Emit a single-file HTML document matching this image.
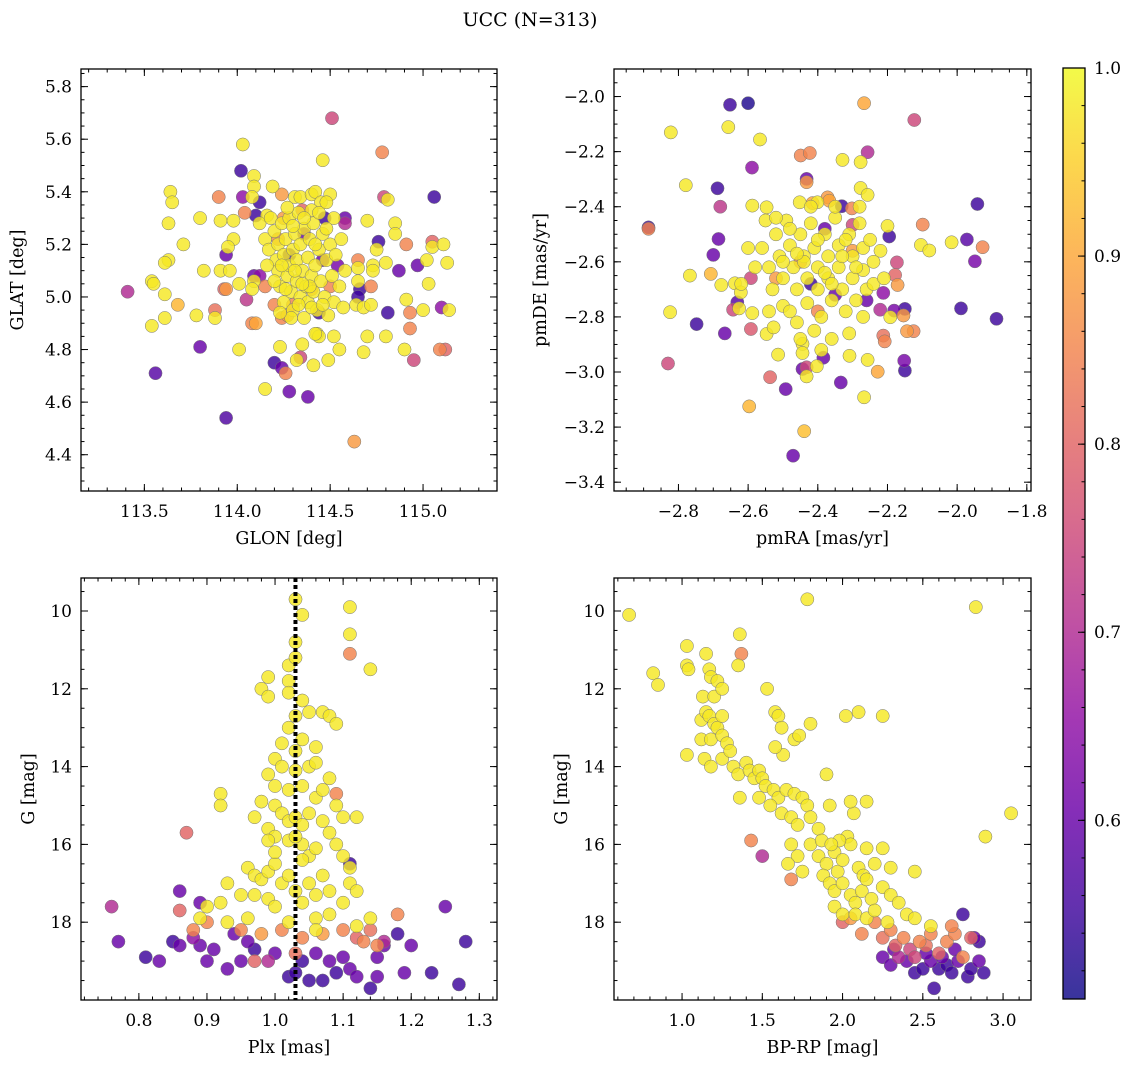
<!DOCTYPE html>
<html><head><meta charset="utf-8">
<style>
html,body{margin:0;padding:0;background:#fff;}
svg{display:block;font-family:"DejaVu Serif","Liberation Serif",serif;}
</style></head>
<body>
<svg id="chart" width="1136" height="1068" viewBox="0 0 1136 1068" xmlns="http://www.w3.org/2000/svg">
<defs>
<linearGradient id="plasmaGrad" x1="0" y1="1" x2="0" y2="0">
<stop offset="0" stop-color="#0d0887"/><stop offset="0.1" stop-color="#41049d"/><stop offset="0.2" stop-color="#6a00a8"/><stop offset="0.3" stop-color="#8f0da4"/><stop offset="0.4" stop-color="#b12a90"/><stop offset="0.5" stop-color="#cc4778"/><stop offset="0.6" stop-color="#e16462"/><stop offset="0.7" stop-color="#f2844b"/><stop offset="0.8" stop-color="#fca636"/><stop offset="0.9" stop-color="#fcce25"/><stop offset="1" stop-color="#f0f921"/>
</linearGradient>
</defs>
<text x="530" y="26" font-size="19" text-anchor="middle">UCC (N=313)</text>
</svg>
<script>
// ---------- data (value triples: x, y, membership probability) ----------
const posData = [
[114.51,5.68,0.75],[114.78,5.55,0.85],[114.03,5.58,0.98],[114.46,5.52,0.98],[114.02,5.48,0.55],[113.64,5.40,0.98],[113.65,5.36,0.98],[114.09,5.46,0.98],[114.09,5.42,0.98],[114.19,5.42,0.98],[113.90,5.38,0.85],[114.03,5.38,0.65],[114.08,5.38,0.98],[114.12,5.36,0.55],[114.24,5.39,0.88],
[114.31,5.38,0.98],[114.34,5.38,0.98],[114.40,5.39,0.98],[114.42,5.40,0.98],[114.50,5.39,0.98],[114.45,5.36,0.98],[114.40,5.33,0.98],[114.48,5.36,0.98],[114.79,5.38,0.75],[114.81,5.37,0.98],[115.06,5.38,0.55],
[113.80,5.30,0.98],[113.91,5.29,0.98],[113.98,5.29,0.98],[113.63,5.28,0.98],[114.04,5.32,0.85],[114.10,5.31,0.55],[114.16,5.31,0.98],[114.35,5.33,0.8],[114.58,5.30,0.6],[114.58,5.28,0.7],[114.47,5.30,0.55],[114.70,5.29,0.98],[114.85,5.28,0.98],[114.85,5.24,0.98],
[113.71,5.20,0.98],[113.98,5.22,0.98],[113.95,5.19,0.98],[113.94,5.16,0.6],[113.63,5.14,0.98],[113.61,5.13,0.98],[113.82,5.10,0.98],[113.91,5.10,0.98],[113.96,5.10,0.98],[113.41,5.02,0.7],[113.54,5.06,0.98],[113.55,5.05,0.98],[113.61,5.01,0.98],[113.68,4.97,0.92],[113.54,4.89,0.98],[113.61,4.92,0.98],[113.78,4.93,0.98],[113.88,4.95,0.82],[113.88,4.92,0.98],[113.93,5.03,0.8],[113.94,5.03,0.88],[114.01,5.05,0.98],[114.05,4.99,0.72],[114.08,4.90,0.85],[114.10,4.90,0.9],
[113.80,4.81,0.6],[113.56,4.71,0.58],[114.01,4.80,0.98],[113.94,4.54,0.57],[114.15,4.65,0.98],[114.20,4.75,0.55],[114.24,4.73,0.6],[114.26,4.71,0.85],[114.23,4.81,0.98],[114.32,4.76,0.98],[114.34,4.77,0.75],[114.41,4.74,0.98],[114.28,4.64,0.6],[114.38,4.62,0.6],[114.35,4.82,0.98],[114.43,4.86,0.98],[114.44,4.85,0.98],[114.49,4.76,0.98],[114.52,4.85,0.98],[114.55,4.80,0.98],[114.63,4.45,0.88],
[114.70,4.85,0.98],[114.68,4.79,0.98],[114.80,4.85,0.98],[114.90,4.80,0.98],[114.95,4.76,0.75],[115.09,4.80,0.85],[115.12,4.80,0.8],[114.93,4.88,0.85],[114.93,4.94,0.85],[114.91,4.99,0.98],[115.00,4.95,0.98],[115.14,4.95,0.98],[115.10,4.96,0.65],[114.81,4.94,0.55],[115.03,5.05,0.98],[114.87,5.10,0.6],[114.97,5.12,0.6],[115.02,5.14,0.98],[115.13,5.13,0.98],[114.91,5.20,0.85],[115.05,5.21,0.8],[115.05,5.19,0.98],[115.11,5.20,0.98],[114.76,5.21,0.55],[114.75,5.18,0.98],[114.80,5.13,0.98],[114.73,5.12,0.98],[114.73,5.10,0.98],[114.72,5.04,0.85],[114.65,5.14,0.85],[114.66,5.03,0.55],[114.65,5.00,0.55],[114.65,5.11,0.98],[114.65,5.06,0.98],[114.64,4.97,0.98],[114.68,4.96,0.98],[114.72,4.97,0.98],
[114.09,5.08,0.6],[114.12,5.08,0.65],[114.09,5.06,0.98],[114.08,5.03,0.98],[114.24,4.92,0.85],[114.27,4.93,0.88],[114.42,4.86,0.98],
[114.22,5.22,0.85],[114.30,4.97,0.85],[114.40,5.03,0.88],[114.46,5.14,0.6],[114.28,5.16,0.55],[114.50,5.04,0.85],[114.36,5.24,0.6],[114.20,4.97,0.85],[114.54,5.12,0.62],[114.25,5.30,0.88],[114.44,4.94,0.55],[114.15,5.04,0.85],
[114.12,5.28,0.98],[114.15,5.22,0.98],[114.17,5.18,0.98],[114.18,5.30,0.98],[114.20,5.25,0.98],[114.21,5.14,0.98],[114.22,5.10,0.98],[114.22,5.20,0.98],[114.23,5.04,0.98],[114.24,5.28,0.98],[114.25,5.16,0.98],[114.25,4.98,0.98],[114.26,5.22,0.98],[114.27,5.08,0.98],[114.28,5.12,0.98],[114.28,5.30,0.98],[114.29,5.02,0.98],[114.30,5.18,0.98],[114.30,4.95,0.98],[114.31,5.24,0.98],[114.32,5.06,0.98],[114.32,5.14,0.98],[114.33,5.32,0.98],[114.34,5.00,0.98],[114.34,5.20,0.98],[114.35,5.10,0.98],[114.36,4.92,0.98],[114.36,5.26,0.98],[114.37,5.04,0.98],[114.38,5.15,0.98],[114.38,4.98,0.98],[114.39,5.22,0.98],[114.40,5.08,0.98],[114.41,5.02,0.98],[114.41,5.28,0.98],[114.42,5.12,0.98],[114.43,4.95,0.98],[114.44,5.18,0.98],[114.45,5.06,0.98],[114.46,5.24,0.98],[114.47,5.00,0.98],[114.48,5.14,0.98],[114.49,4.93,0.98],[114.50,5.20,0.98],[114.51,5.08,0.98],[114.52,4.98,0.98],[114.53,5.16,0.98],[114.55,5.04,0.98],[114.56,5.22,0.98],[114.57,4.96,0.98],[114.26,5.03,0.98],[114.29,4.92,0.98],[114.33,4.97,0.98],[114.40,4.96,0.98],[114.46,4.97,0.98],[114.24,5.12,0.98],[114.36,5.30,0.98],[114.20,5.06,0.98],[114.44,5.32,0.98],[114.31,5.10,0.98],[114.27,5.34,0.98],[114.39,5.04,0.98],[114.48,5.26,0.98],[114.52,5.30,0.98],[114.16,5.12,0.98],[114.35,5.05,0.98],[114.42,5.20,0.98],[114.30,5.27,0.98],[114.23,4.94,0.98],[114.58,5.10,0.98]
];
const pmData = [
[-2.652,-2.030,0.55],[-2.600,-2.024,0.52],[-2.267,-2.024,0.9],[-2.123,-2.085,0.75],[-2.822,-2.130,0.98],[-2.657,-2.111,0.98],[-2.566,-2.156,0.98],[-2.589,-2.258,0.65],[-2.449,-2.214,0.85],[-2.423,-2.205,0.85],[-2.257,-2.202,0.7],[-2.329,-2.230,0.98],[-2.277,-2.238,0.98],[-2.779,-2.322,0.98],[-2.688,-2.333,0.55],[-2.680,-2.400,0.72],[-2.432,-2.299,0.6],[-2.432,-2.311,0.88],[-2.277,-2.332,0.98],[-2.257,-2.357,0.98],[-2.588,-2.396,0.98],[-2.547,-2.402,0.98],[-2.415,-2.387,0.9],[-2.372,-2.366,0.88],[-2.367,-2.378,0.9],[-2.331,-2.398,0.55],[-2.302,-2.406,0.85],[-2.452,-2.384,0.98],[-2.401,-2.384,0.98],[-1.942,-2.390,0.55],
[-2.886,-2.475,0.55],[-2.886,-2.480,0.85],[-2.685,-2.517,0.6],[-2.700,-2.575,0.6],[-2.300,-2.466,0.75],[-2.099,-2.465,0.85],[-2.195,-2.508,0.55],[-2.104,-2.539,0.98],[-2.080,-2.559,0.98],[-2.016,-2.529,0.98],[-1.972,-2.519,0.58],[-1.949,-2.598,0.62],[-1.927,-2.547,0.85],[-2.173,-2.602,0.75],[-2.178,-2.648,0.8],[-2.171,-2.684,0.88],[-2.767,-2.650,0.98],[-2.707,-2.644,0.92],[-2.592,-2.659,0.75],[-2.677,-2.684,0.98],[-2.638,-2.678,0.98],[-2.621,-2.711,0.98],[-2.631,-2.747,0.58],[-2.643,-2.774,0.75],[-2.626,-2.769,0.98],[-2.824,-2.783,0.98],[-2.588,-2.786,0.98],[-2.748,-2.826,0.55],[-2.667,-2.860,0.6],[-2.592,-2.844,0.78],[-2.830,-2.969,0.75],[-2.547,-2.862,0.98],[-2.527,-2.838,0.98],
[-2.212,-2.713,0.65],[-2.221,-2.774,0.7],[-2.150,-2.771,0.55],[-2.181,-2.777,0.62],[-2.154,-2.795,0.88],[-2.192,-2.801,0.98],[-1.989,-2.769,0.55],[-1.887,-2.807,0.55],[-2.144,-2.852,0.88],[-2.125,-2.852,0.85],[-2.212,-2.868,0.82],[-2.208,-2.889,0.85],[-2.152,-2.959,0.62],[-2.150,-2.995,0.55],[-2.228,-2.999,0.9],[-2.257,-2.956,0.98],[-2.309,-2.941,0.98],[-2.384,-2.948,0.6],[-2.334,-3.038,0.6],[-2.267,-3.092,0.98],[-2.403,-2.979,0.98],[-2.432,-3.016,0.98],[-2.432,-2.983,0.75],[-2.444,-2.989,0.6],[-2.444,-2.898,0.98],[-2.444,-2.931,0.98],[-2.537,-3.019,0.8],[-2.492,-3.062,0.6],[-2.597,-3.125,0.92],[-2.439,-3.215,0.93],[-2.471,-3.304,0.6],[-2.514,-2.937,0.98],
[-2.45,-2.60,0.85],[-2.35,-2.72,0.6],[-2.30,-2.56,0.88],[-2.40,-2.78,0.85],[-2.26,-2.74,0.6],[-2.52,-2.66,0.88],[-2.38,-2.48,0.6],[-2.42,-2.68,0.55],
[-2.56,-2.55,0.98],[-2.54,-2.62,0.98],[-2.53,-2.70,0.98],[-2.52,-2.50,0.98],[-2.51,-2.58,0.98],[-2.50,-2.66,0.98],[-2.50,-2.76,0.98],[-2.49,-2.45,0.98],[-2.48,-2.54,0.98],[-2.47,-2.62,0.98],[-2.46,-2.70,0.98],[-2.46,-2.82,0.98],[-2.45,-2.50,0.98],[-2.44,-2.58,0.98],[-2.43,-2.66,0.98],[-2.43,-2.75,0.98],[-2.42,-2.46,0.98],[-2.41,-2.55,0.98],[-2.40,-2.62,0.98],[-2.40,-2.70,0.98],[-2.39,-2.80,0.98],[-2.38,-2.50,0.98],[-2.37,-2.58,0.98],[-2.37,-2.66,0.98],[-2.36,-2.74,0.98],[-2.35,-2.44,0.98],[-2.34,-2.54,0.98],[-2.34,-2.62,0.98],[-2.33,-2.70,0.98],[-2.32,-2.78,0.98],[-2.31,-2.50,0.98],[-2.30,-2.58,0.98],[-2.30,-2.66,0.98],[-2.29,-2.74,0.98],[-2.28,-2.46,0.98],[-2.27,-2.55,0.98],[-2.27,-2.63,0.98],[-2.26,-2.70,0.98],[-2.25,-2.52,0.98],[-2.24,-2.60,0.98],[-2.24,-2.68,0.98],[-2.45,-2.88,0.98],[-2.41,-2.85,0.98],[-2.36,-2.88,0.98],[-2.31,-2.86,0.98],[-2.48,-2.78,0.98],[-2.55,-2.45,0.98],[-2.58,-2.62,0.98],[-2.60,-2.55,0.98],[-2.35,-2.40,0.98],[-2.42,-2.40,0.98],[-2.28,-2.40,0.98],[-2.22,-2.56,0.98],[-2.21,-2.66,0.98],[-2.39,-2.92,0.98],[-2.44,-2.60,0.98],[-2.38,-2.64,0.98],[-2.33,-2.58,0.98],[-2.46,-2.57,0.98],[-2.50,-2.60,0.98],[-2.32,-2.52,0.98],[-2.40,-2.52,0.98],[-2.36,-2.68,0.98],[-2.29,-2.62,0.98],[-2.52,-2.44,0.98],[-2.48,-2.48,0.98],[-2.27,-2.80,0.98],[-2.54,-2.78,0.98],[-2.20,-2.47,0.98],[-2.62,-2.68,0.98]
];
const plxData = [
[1.03,9.7,0.98],[1.04,10.1,0.98],[1.11,9.9,0.98],[1.11,10.6,0.98],[1.03,10.8,0.98],[1.02,11.4,0.98],[1.03,11.2,0.98],[1.14,11.5,0.98],[0.99,11.7,0.98],[1.02,11.8,0.98],[0.98,12.0,0.98],[0.99,12.2,0.98],[1.02,12.1,0.98],[1.04,12.3,0.98],[1.05,12.6,0.98],[1.07,12.6,0.98],[1.08,12.7,0.98],[1.09,12.9,0.98],[1.02,13.0,0.98],[1.03,12.7,0.98],[1.01,13.4,0.98],[1.03,13.6,0.98],[1.04,13.3,0.98],[1.06,13.5,0.98],[1.00,13.8,0.98],[1.01,14.0,0.98],[1.03,14.1,0.98],[1.05,14.0,0.98],[1.06,13.9,0.98],[1.08,14.3,0.98],[0.99,14.2,0.98],[1.00,14.5,0.98],[1.02,14.6,0.98],[1.04,14.5,0.98],[1.06,14.8,0.98],[1.07,14.6,0.98],[0.92,14.7,0.98],[0.92,15.0,0.98],[0.98,14.9,0.98],[1.00,15.0,0.98],[1.01,15.2,0.98],[1.02,15.4,0.98],[1.03,15.3,0.98],[1.04,15.5,0.98],[1.05,15.2,0.98],[1.07,15.4,0.98],[1.09,15.0,0.98],[1.10,15.3,0.98],[1.12,15.3,0.98],[1.08,15.7,0.98],[0.97,15.3,0.98],[0.99,15.6,0.98],[1.00,15.8,0.98],[1.02,15.9,0.98],[1.04,16.0,0.98],[1.05,16.3,0.98],[1.06,16.1,0.98],[1.09,16.0,0.98],[1.10,16.3,0.98],[1.11,16.6,0.98],[1.11,17.0,0.98],[0.96,16.6,0.98],[0.97,16.8,0.98],[0.98,16.9,0.98],[0.99,16.7,0.98],[1.00,16.5,0.98],[1.01,17.0,0.98],[1.02,16.8,0.98],[1.03,17.2,0.98],[1.05,17.0,0.98],[1.06,17.3,0.98],[1.07,16.8,0.98],[1.08,17.2,0.98],[1.10,17.5,0.98],[1.12,17.2,0.98],[0.93,17.0,0.98],[0.95,17.3,0.98],[0.97,17.3,0.98],[0.99,17.4,0.98],[0.90,17.6,0.98],[0.92,17.5,0.98],[1.00,17.6,0.98],[1.04,17.5,0.98],[1.08,17.8,0.98],[1.02,18.0,0.98],[1.06,17.9,0.98],[0.96,17.9,0.98],[0.93,18.0,0.98],[0.89,17.9,0.98],[1.14,17.9,0.98],[1.12,18.1,0.98],[1.06,18.2,0.98],[1.04,16.4,0.98],[1.00,16.2,0.98],[1.03,15.8,0.98],[0.99,15.9,0.98],
[1.11,11.1,0.85],[1.09,14.7,0.85],[0.87,15.7,0.8],[0.86,17.7,0.8],[0.88,18.2,0.85],[0.90,18.0,0.85],[0.95,18.2,0.85],[0.98,18.3,0.88],[1.01,18.2,0.85],[1.04,18.4,0.85],[1.07,18.3,0.88],[1.10,18.2,0.85],[1.13,18.5,0.85],[1.15,18.6,0.85],[1.18,17.8,0.85],[1.14,18.2,0.82],[0.97,19.0,0.8],[1.03,18.8,0.82],[1.12,18.4,0.8],
[0.76,17.6,0.7],[0.77,18.5,0.6],[0.81,18.9,0.55],[0.83,19.0,0.6],[0.86,17.2,0.6],[0.86,18.6,0.6],[0.88,18.4,0.65],[0.89,18.6,0.6],[0.89,17.5,0.6],[0.90,19.0,0.6],[0.91,18.7,0.6],[0.93,19.2,0.6],[0.94,18.3,0.6],[0.95,19.0,0.6],[0.96,18.5,0.6],[0.97,18.7,0.55],[0.99,19.0,0.7],[1.00,18.8,0.6],[1.02,19.4,0.55],[1.03,19.3,0.55],[1.04,19.0,0.55],[1.05,19.5,0.55],[1.06,18.8,0.6],[1.07,19.5,0.55],[1.08,19.0,0.6],[1.09,19.3,0.55],[1.10,18.9,0.6],[1.11,19.2,0.6],[1.12,19.4,0.6],[1.14,19.7,0.55],[1.15,19.4,0.6],[1.15,18.9,0.6],[1.16,18.6,0.6],[1.18,18.3,0.55],[1.19,19.3,0.6],[1.20,18.6,0.6],[1.23,19.3,0.55],[1.25,17.6,0.6],[1.27,19.6,0.55],[1.28,18.5,0.55],[1.11,16.5,0.55],[1.16,18.5,0.7],[0.85,18.5,0.55]
];
const cmdData = [
[0.67,10.1,0.98],[0.82,11.6,0.98],[0.85,11.9,0.98],[1.03,10.9,0.98],[1.03,11.4,0.98],[1.04,11.5,0.98],[1.15,11.1,0.98],[1.17,11.5,0.98],[1.18,11.7,0.98],[1.22,11.8,0.98],[1.13,12.2,0.98],[1.20,12.2,0.98],[1.25,12.0,0.98],[1.36,10.6,0.98],[1.35,11.4,0.98],[1.12,12.8,0.98],[1.15,12.6,0.98],[1.17,12.7,0.98],[1.20,12.9,0.98],[1.22,13.0,0.98],[1.25,12.7,0.98],[1.12,13.3,0.98],[1.18,13.3,0.98],[1.25,13.2,0.98],[1.28,13.4,0.98],[1.03,13.7,0.98],[1.14,13.8,0.98],[1.18,14.0,0.98],[1.25,13.8,0.98],[1.30,13.6,0.98],[1.32,14.0,0.98],[1.35,14.2,0.98],[1.40,13.9,0.98],[1.42,14.1,0.98],[1.45,14.3,0.98],[1.48,14.1,0.98],[1.50,14.3,0.98],[1.52,14.5,0.98],[1.36,14.8,0.98],[1.48,14.8,0.98],[1.53,12.0,0.98],[1.58,12.6,0.98],[1.60,12.7,0.98],[1.62,13.0,0.98],[1.63,13.7,0.98],[1.70,13.3,0.98],[1.73,13.2,0.98],[1.78,9.7,0.98],[1.80,12.9,0.98],[1.57,14.6,0.98],[1.60,14.8,0.98],[1.65,14.6,0.98],[1.70,14.7,0.98],[1.75,14.8,0.98],[1.78,15.0,0.98],[1.62,15.2,0.98],[1.68,15.3,0.98],[1.72,15.5,0.98],[1.80,15.3,0.98],[1.85,15.6,0.98],[1.90,14.2,0.98],[1.92,15.0,0.98],[1.68,16.0,0.98],[1.72,16.3,0.98],[1.75,16.7,0.98],[1.66,16.5,0.98],[1.80,16.0,0.98],[1.85,16.3,0.98],[1.90,16.5,0.98],[1.95,16.2,0.98],[1.97,16.7,0.98],[2.00,16.4,0.98],[2.03,15.8,0.98],[2.07,15.2,0.98],[2.10,16.6,0.98],[2.13,16.8,0.98],[2.15,16.1,0.98],[2.20,16.5,0.98],[1.88,16.8,0.98],[1.92,17.0,0.98],[1.95,17.2,0.98],[2.00,17.0,0.98],[2.05,17.3,0.98],[2.08,17.5,0.98],[2.12,17.2,0.98],[2.18,17.4,0.98],[2.25,17.1,0.98],[2.30,17.3,0.98],[2.35,17.5,0.98],[2.25,16.1,0.98],[2.02,12.7,0.98],[2.10,12.6,0.98],[2.25,12.7,0.98],[2.05,14.9,0.98],[2.15,14.9,0.98],[2.83,9.9,0.98],[2.89,15.8,0.98],[3.05,15.2,0.98],[2.45,16.7,0.98],[1.95,17.6,0.98],[2.00,17.8,0.98],[2.08,17.8,0.98],[2.15,17.9,0.98],[2.20,17.7,0.98],[2.28,18.0,0.98],[2.40,17.8,0.98],[2.45,17.9,0.98],[2.55,18.1,0.98],[2.15,16.9,0.98],[2.30,16.6,0.98],[2.05,16.0,0.98],[1.98,15.9,0.98],[1.87,15.9,0.98],[1.58,13.5,0.98],[1.55,15.0,0.98],[1.93,16.0,0.98],
[1.37,11.1,0.85],[1.43,15.9,0.85],[1.50,16.3,0.7],[1.68,16.9,0.85],[2.00,18.0,0.8],[2.05,17.9,0.88],[2.12,18.3,0.85],[2.20,18.0,0.85],[2.25,18.4,0.82],[2.30,18.2,0.85],[2.33,18.6,0.8],[2.38,18.4,0.85],[2.42,18.7,0.75],[2.48,18.5,0.85],[2.52,18.6,0.82],[2.55,18.3,0.85],[2.60,18.8,0.8],[2.65,18.5,0.85],[2.70,18.3,0.85],[2.68,18.1,0.85],[2.75,18.9,0.85],[2.80,18.4,0.8],[2.45,18.9,0.75],[2.35,18.9,0.7],
[2.25,18.9,0.6],[2.32,18.7,0.6],[2.40,19.0,0.6],[2.45,19.3,0.55],[2.50,19.2,0.55],[2.55,19.0,0.6],[2.57,19.7,0.55],[2.60,19.2,0.55],[2.62,18.9,0.6],[2.65,19.1,0.55],[2.68,19.3,0.55],[2.72,19.0,0.6],[2.75,17.8,0.55],[2.78,19.4,0.55],[2.80,19.2,0.55],[2.82,18.4,0.6],[2.85,18.5,0.55],[2.88,19.3,0.55],[2.70,18.7,0.6],[2.52,18.8,0.6],[2.30,19.1,0.6],[2.85,19.0,0.6]
];
const plxLine = 1.03;
const cbarTicks = [0.6,0.7,0.8,0.9,1.0];
const cbarMin = 0.505, cbarMax = 1.0;

// ---------- rendering ----------
const NS = 'http://www.w3.org/2000/svg';
const svg = document.getElementById('chart');
function mk(tag, attrs, parent){ const e=document.createElementNS(NS,tag); for(const k in attrs) e.setAttribute(k,attrs[k]); (parent||svg).appendChild(e); return e; }
const stops=[[0,[13,8,135]],[0.1,[65,4,157]],[0.2,[106,0,168]],[0.3,[143,13,164]],[0.4,[177,42,144]],[0.5,[204,71,120]],[0.6,[225,100,98]],[0.7,[242,132,75]],[0.8,[252,166,54]],[0.9,[252,206,37]],[1,[240,249,33]]];
function plasma(p){ let t=(p-cbarMin)/(cbarMax-cbarMin); t=Math.max(0,Math.min(1,t));
  for(let i=1;i<stops.length;i++){ if(t<=stops[i][0]){ const a=stops[i-1],b=stops[i],f=(t-a[0])/(b[0]-a[0]);
    const c=a[1].map((v,j)=>Math.round(v+(b[1][j]-v)*f)); return `rgb(${c[0]},${c[1]},${c[2]})`; } }
  return 'rgb(240,249,33)'; }
const minus = s => s.replace('-', '\u2212');

const panels = [
 {name:'position', box:[81,69,497,491], xd:[113.159,115.398], yd:[5.867,4.262], data:posData,
  xt:[113.5,114.0,114.5,115.0], xm:0.1, yt:[4.4,4.6,4.8,5.0,5.2,5.4,5.6,5.8], ym:0.05, xf:1, yf:1, xl:'GLON [deg]', yl:'GLAT [deg]', ylx:17},
 {name:'proper-motion', box:[614,69,1031,491], xd:[-2.985,-1.788], yd:[-1.900,-3.432], data:pmData,
  xt:[-2.8,-2.6,-2.4,-2.2,-2.0,-1.8], xm:0.05, yt:[-3.4,-3.2,-3.0,-2.8,-2.6,-2.4,-2.2,-2.0], ym:0.05, xf:1, yf:1, xl:'pmRA [mas/yr]', yl:'pmDE [mas/yr]', ylx:540},
 {name:'parallax', box:[81,578,497,1000], xd:[0.715,1.326], yd:[9.152,20.0], data:plxData,
  xt:[0.8,0.9,1.0,1.1,1.2,1.3], xm:0.02, yt:[10,12,14,16,18], ym:0.5, xf:1, yf:0, xl:'Plx [mas]', yl:'G [mag]', ylx:28},
 {name:'cmd', box:[614,578,1031,1000], xd:[0.576,3.174], yd:[9.152,20.0], data:cmdData,
  xt:[1.0,1.5,2.0,2.5,3.0], xm:0.1, yt:[10,12,14,16,18], ym:0.5, xf:1, yf:0, xl:'BP-RP [mag]', yl:'G [mag]', ylx:561}
];

panels.forEach(P=>{
  const [x0,y0,x1,y1]=P.box;
  const sx=v=>x0+(v-P.xd[0])/(P.xd[1]-P.xd[0])*(x1-x0);
  const sy=v=>y0+(v-P.yd[0])/(P.yd[1]-P.yd[0])*(y1-y0);
  const g=mk('g',{});  
  const cp=mk('clipPath',{id:'clip-'+P.name},g); mk('rect',{x:x0,y:y0,width:x1-x0,height:y1-y0},cp);
  const pts=mk('g',{'clip-path':`url(#clip-${P.name})`},g);
   
  const sorted=P.data.slice().sort((a,b)=>a[2]-b[2]);
  sorted.forEach(d=>{
    const c=mk('circle',{cx:sx(d[0]).toFixed(1),cy:sy(d[1]).toFixed(1),r:6.6,fill:plasma(d[2]),'fill-opacity':0.82,stroke:'#777','stroke-width':0.5},pts);
    
    
  });
  if(P.name==='parallax'){
    const l=mk('line',{x1:sx(plxLine),x2:sx(plxLine),y1:y0,y2:y1,stroke:'#000','stroke-width':4,'stroke-dasharray':'4,3'},g);
     
  }
  const tk=mk('g',{stroke:'#000','stroke-width':1},g);
  const xmin=Math.min(...P.xd), xmax=Math.max(...P.xd), ymin=Math.min(...P.yd), ymax=Math.max(...P.yd);
  for(let v=Math.ceil(xmin/P.xm)*P.xm; v<=xmax; v+=P.xm){ const X=sx(v); mk('line',{x1:X,x2:X,y1:y1,y2:y1-3.5},tk); mk('line',{x1:X,x2:X,y1:y0,y2:y0+3.5},tk); }
  for(let v=Math.ceil(ymin/P.ym)*P.ym; v<=ymax; v+=P.ym){ const Y=sy(v); mk('line',{x1:x0,x2:x0+3.5,y1:Y,y2:Y},tk); mk('line',{x1:x1,x2:x1-3.5,y1:Y,y2:Y},tk); }
  P.xt.forEach(v=>{ const X=sx(v); mk('line',{x1:X,x2:X,y1:y1,y2:y1-7},tk); mk('line',{x1:X,x2:X,y1:y0,y2:y0+7},tk);
    const t=mk('text',{x:X,y:y1+26,'font-size':17,'text-anchor':'middle'},g); t.textContent=minus(v.toFixed(P.xf));
      });
  P.yt.forEach(v=>{ const Y=sy(v); mk('line',{x1:x0,x2:x0+7,y1:Y,y2:Y},tk); mk('line',{x1:x1,x2:x1-7,y1:Y,y2:Y},tk);
    const t=mk('text',{x:x0-9,y:Y+6,'font-size':17,'text-anchor':'end'},g); t.textContent=minus(v.toFixed(P.yf));
      });
  const fr=mk('rect',{x:x0,y:y0,width:x1-x0,height:y1-y0,fill:'none',stroke:'#000','stroke-width':1.3},g);
   
  const xl=mk('text',{x:(x0+x1)/2,y:y1+53,'font-size':17.5,'text-anchor':'middle'},g); xl.textContent=P.xl;
   
  const yx = P.ylx + 6;
  const yl=mk('text',{x:yx,y:(y0+y1)/2,'font-size':17.5,'text-anchor':'middle',transform:`rotate(-90 ${yx} ${(y0+y1)/2})`},g); yl.textContent=P.yl;
   
});

// colorbar
(function(){
  const x0=1063,x1=1085,y0=68,y1=999;
  const g=mk('g',{});  
  mk('rect',{x:x0,y:y0,width:x1-x0,height:y1-y0,fill:'url(#plasmaGrad)','fill-opacity':0.82},g);
  const sy=v=>y1-(v-cbarMin)/(cbarMax-cbarMin)*(y1-y0);
  for(let v=0.52; v<=1.0001; v+=0.02){ const Y=sy(v); mk('line',{x1:x1,x2:x1-3.5,y1:Y,y2:Y,stroke:'#000'},g); }
  cbarTicks.forEach(v=>{ const Y=sy(v); mk('line',{x1:x1,x2:x1-7,y1:Y,y2:Y,stroke:'#000'},g);
    const t=mk('text',{x:x1+9,y:Y+6,'font-size':17},g); t.textContent=v.toFixed(1);
      });
  mk('rect',{x:x0,y:y0,width:x1-x0,height:y1-y0,fill:'none',stroke:'#000','stroke-width':1.3},g);
})();
</script>
</body></html>
